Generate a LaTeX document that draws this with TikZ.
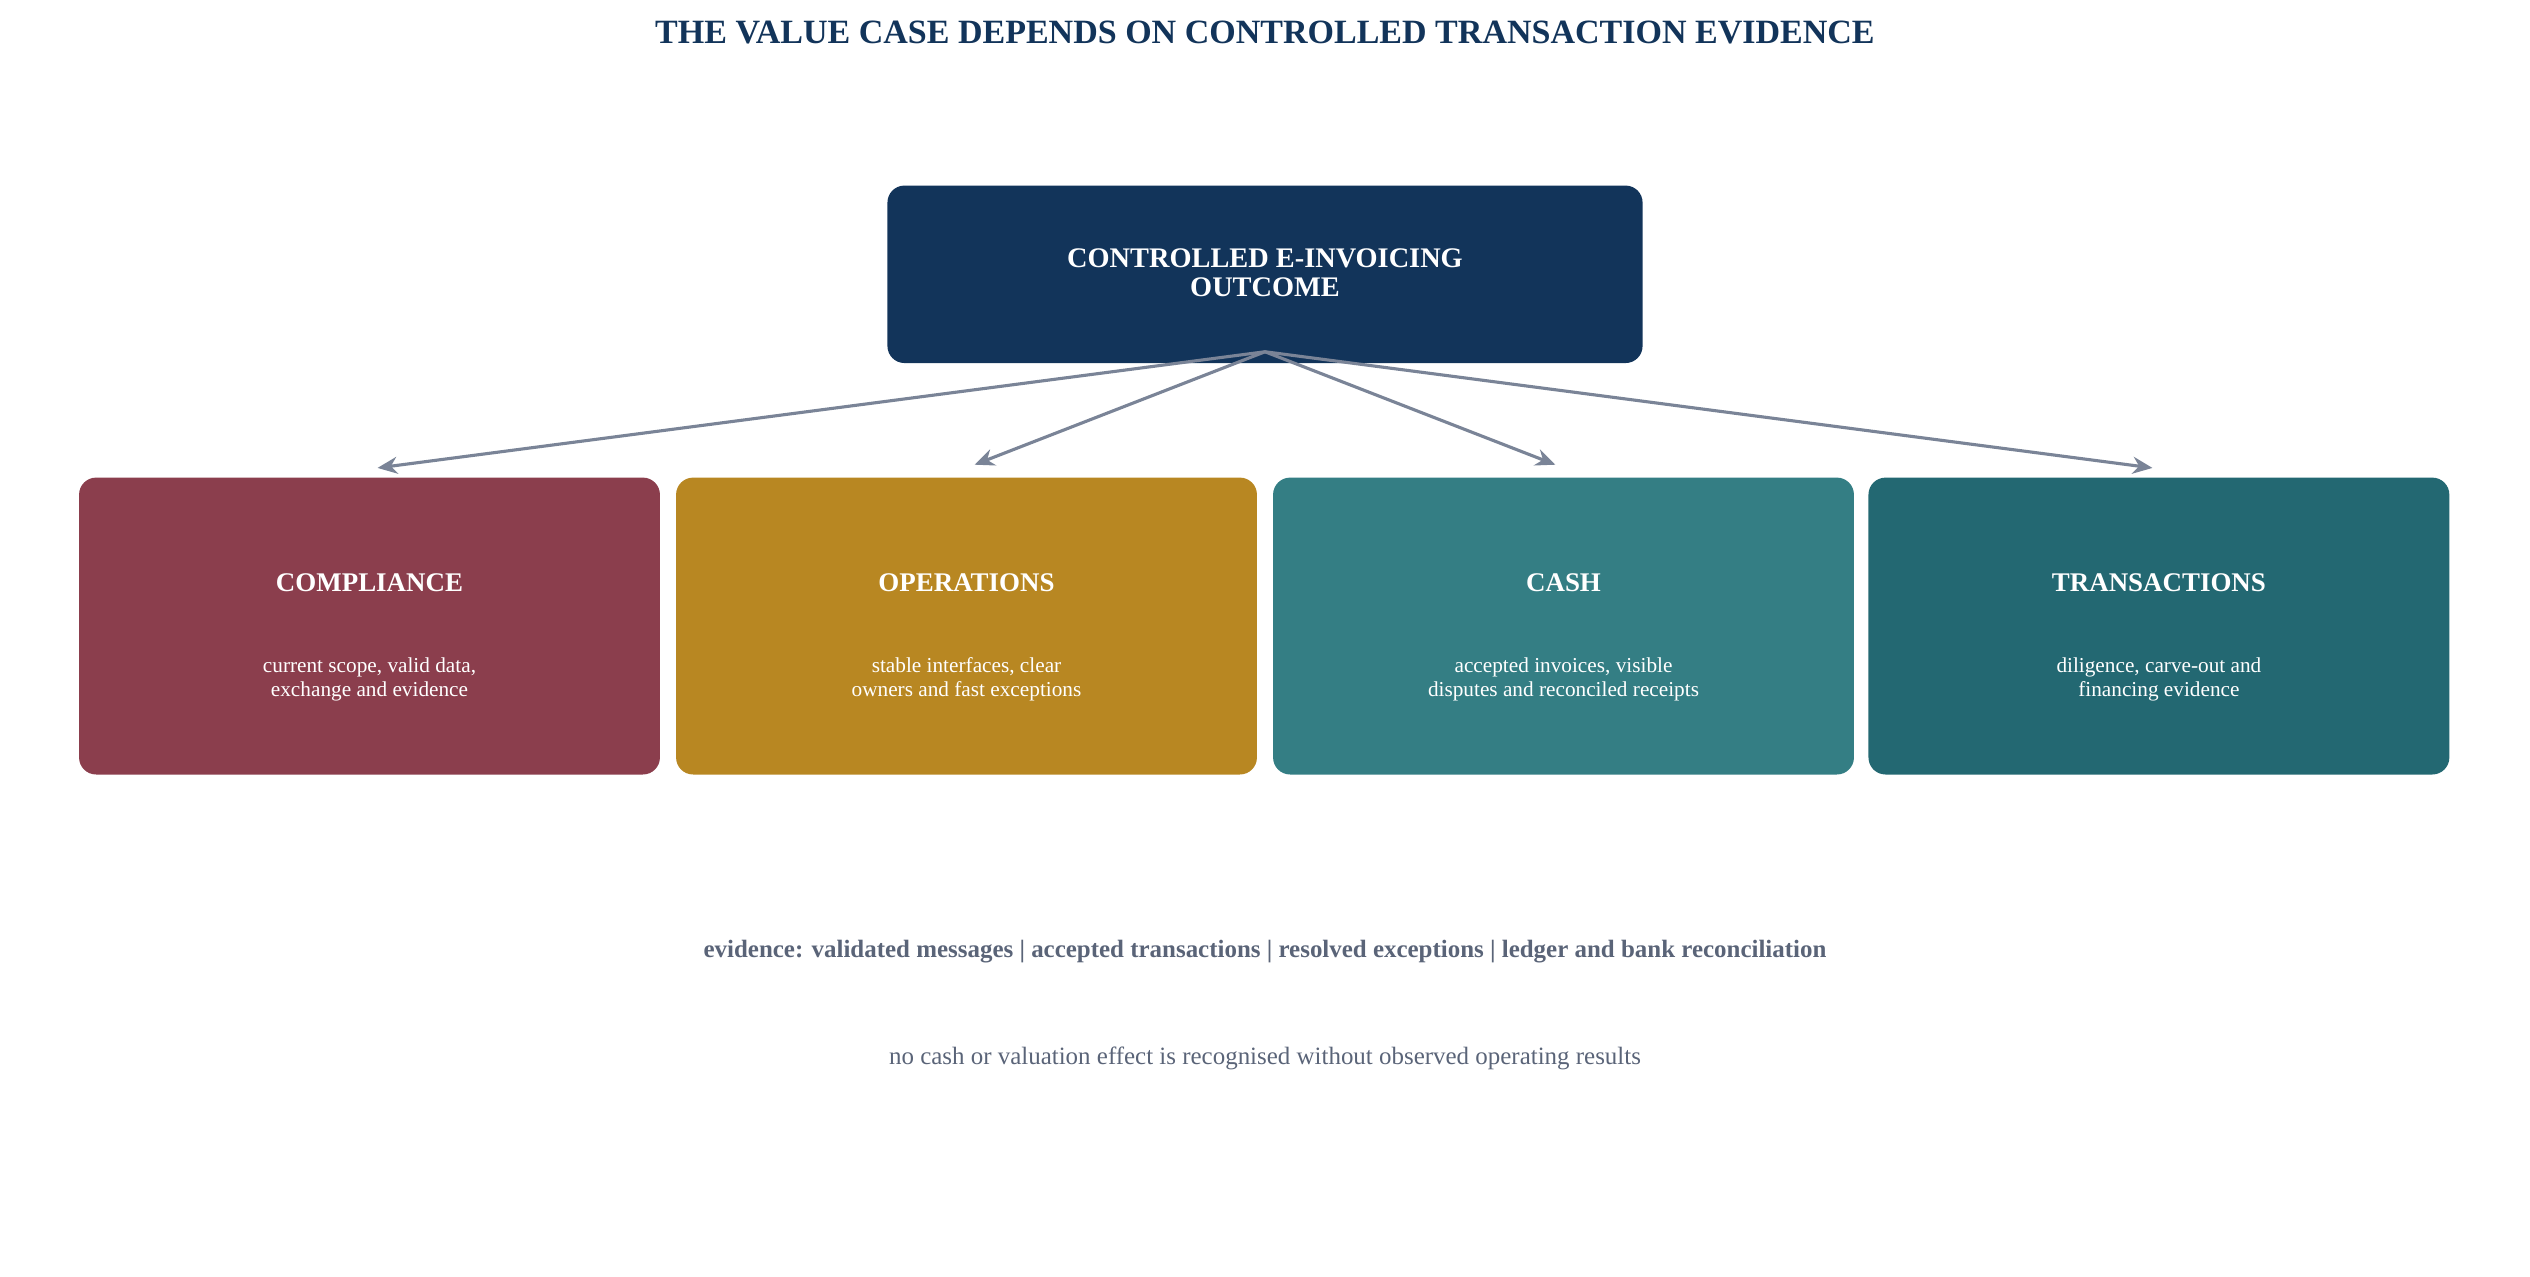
\documentclass[tikz,border=0pt]{standalone}
\usepackage{fontspec}
\setmainfont{Liberation Serif}
\usetikzlibrary{arrows.meta}
\definecolor{navy}{HTML}{12345A}
\definecolor{cA}{HTML}{8B3E4D}
\definecolor{cB}{HTML}{B88722}
\definecolor{cC}{HTML}{347E84}
\definecolor{cD}{HTML}{236872}
\definecolor{arr}{HTML}{7A8497}
\definecolor{gtxt}{HTML}{5A6478}
\begin{document}
\begin{tikzpicture}[x=0.02cm,y=-0.02cm,
 box/.style={rounded corners=5pt,inner sep=0pt,draw=none},
 hd/.style={text=white,font=\bfseries\fontsize{9.5}{11}\selectfont,align=center},
 bd/.style={text=white,font=\fontsize{7.5}{8.6}\selectfont,align=center},
 con/.style={draw=arr,line width=1.1pt,-{Stealth[length=7pt,width=6pt]}}]
\useasboundingbox (0,0) rectangle (1568,791);
\node[text=navy,font=\bfseries\fontsize{12}{14}\selectfont] (t) at (784,20) {THE VALUE CASE DEPENDS ON CONTROLLED TRANSACTION EVIDENCE};
\fill[navy,rounded corners=6pt] (550,115) rectangle (1018,225);
\node[hd,font=\bfseries\fontsize{10}{10}\selectfont] (top) at (784,169) {CONTROLLED E-INVOICING\\OUTCOME};
\coordinate (src) at (784,218);
\foreach \n/\x/\c/\h/\b in {a/49/cA/COMPLIANCE/{current scope, valid data,\\exchange and evidence},
 b/419/cB/OPERATIONS/{stable interfaces, clear\\owners and fast exceptions},
 c/789/cC/CASH/{accepted invoices, visible\\disputes and reconciled receipts},
 d/1158/cD/TRANSACTIONS/{diligence, carve-out and\\financing evidence}}{
 \fill[\c,rounded corners=6pt] (\x,296) rectangle ++(360,184);
 \node[hd] (\n h) at (\x+180,361) {\h};
 \node[bd] (\n b) at (\x+180,421) {\b};
}
\coordinate (ea) at (234,290);
\coordinate (eb) at (604,288);
\coordinate (ec) at (964,288);
\coordinate (ed) at (1334,290);
\foreach \e in {ea,eb,ec,ed} \draw[con] (src) -- (\e);
\node[text=gtxt,font=\bfseries\fontsize{8.8}{10}\selectfont] (ev) at (784,590) {evidence: validated messages | accepted transactions | resolved exceptions | ledger and bank reconciliation};
\node[text=gtxt,font=\fontsize{8.8}{10}\selectfont] (nc) at (784,656) {no cash or valuation effect is recognised without observed operating results};
\end{tikzpicture}
\end{document}
